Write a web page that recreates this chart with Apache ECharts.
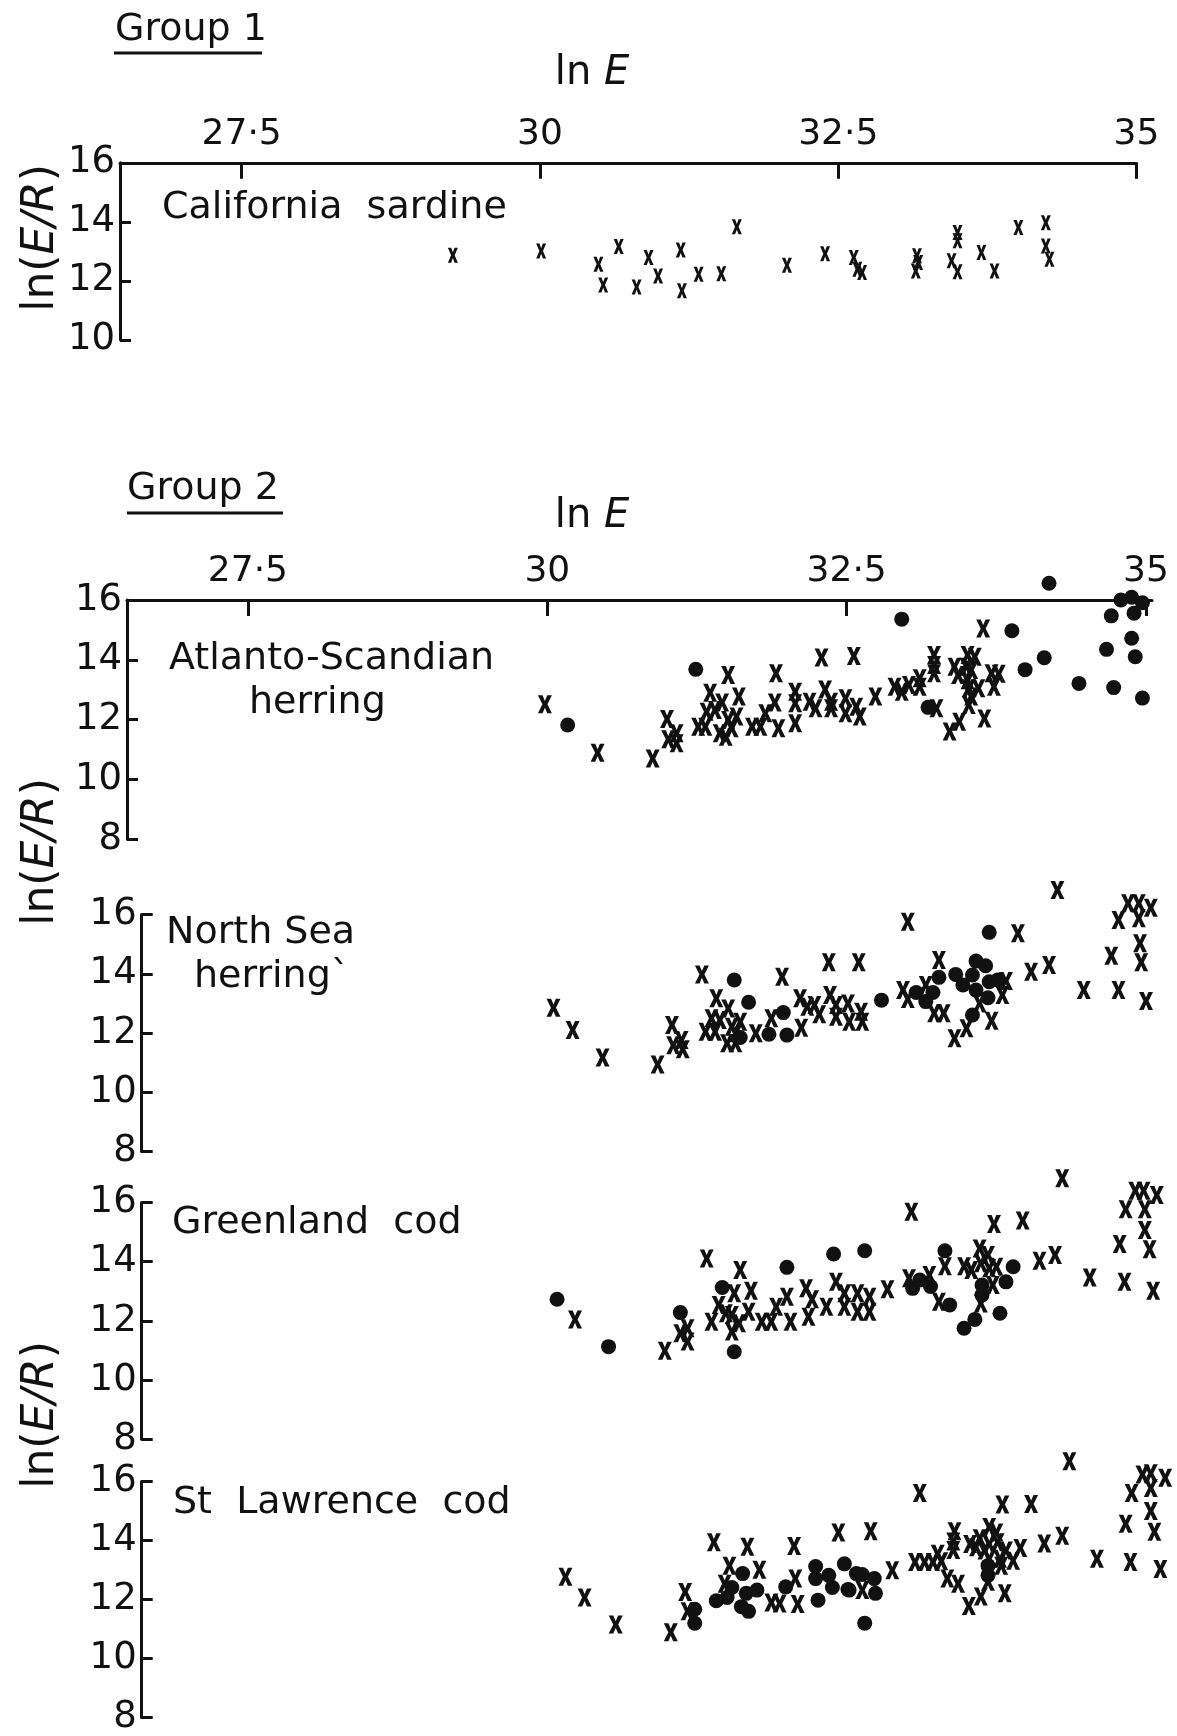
<!DOCTYPE html>
<html>
<head>
<meta charset="utf-8">
<script src="https://cdn.jsdelivr.net/npm/echarts@6/dist/echarts.min.js"></script>
<style>
  html, body { margin: 0; padding: 0; background: #fff; }
  #chart { width: 1177px; height: 1736px; }
</style>
</head>
<body>
<div id="chart"></div>
<script>
// tick labels
const xTicks = [27.5, 30, 32.5, 35];
const yTicksSardine = [10, 12, 14, 16];
const yTicks = [8, 10, 12, 14, 16];

// [ln E, ln(E/R)]
const sardineCross = [[29.27,12.87],[30.01,13.01],[30.49,12.56],[30.53,11.86],[30.66,13.16],[30.81,11.79],[30.91,12.79],[30.99,12.16],[31.18,13.04],[31.19,11.66],[31.33,12.22],[31.52,12.24],[31.65,13.83],[32.07,12.53],[32.39,12.92],[32.63,12.79],[32.66,12.39],[32.70,12.28],[33.16,12.85],[33.17,12.62],[33.15,12.33],[33.50,13.64],[33.50,13.36],[33.45,12.68],[33.50,12.31],[33.70,12.96],[33.81,12.33],[34.01,13.81],[34.24,13.97],[34.24,13.18],[34.27,12.73]];

const asHerringCross = [[29.98,12.51],[30.42,10.89],[30.88,10.70],[31.00,12.02],[31.01,11.34],[31.08,11.54],[31.08,11.21],[31.26,11.76],[31.32,11.76],[31.36,12.90],[31.33,12.26],[31.40,12.32],[31.46,12.57],[31.44,11.54],[31.49,11.43],[31.51,13.49],[31.51,11.99],[31.54,11.71],[31.58,12.10],[31.60,12.77],[31.71,11.76],[31.78,11.76],[31.82,12.21],[31.91,13.55],[31.90,12.57],[31.93,11.71],[32.07,12.93],[32.07,12.55],[32.07,11.88],[32.19,12.60],[32.24,12.38],[32.29,14.08],[32.32,13.01],[32.37,12.60],[32.37,12.38],[32.49,12.71],[32.49,12.21],[32.56,14.13],[32.58,12.43],[32.61,12.10],[32.74,12.77],[32.90,13.10],[32.96,12.93],[33.02,13.16],[33.11,13.38],[33.11,13.10],[33.23,14.16],[33.23,13.83],[33.23,13.55],[33.25,12.38],[33.36,11.60],[33.44,11.93],[33.40,13.77],[33.43,13.49],[33.51,14.16],[33.57,14.10],[33.50,13.77],[33.54,13.66],[33.51,13.32],[33.52,13.05],[33.60,13.05],[33.54,12.77],[33.52,12.49],[33.65,12.04],[33.64,15.05],[33.71,13.55],[33.77,13.53],[33.73,13.10]];
const asHerringDot = [[30.17,11.82],[31.24,13.68],[32.96,15.36],[33.18,12.41],[33.88,14.97],[33.99,13.67],[34.15,14.07],[34.19,16.56],[34.44,13.21],[34.67,14.35],[34.73,13.07],[34.71,15.47],[34.79,16.00],[34.88,16.09],[34.97,15.91],[34.90,15.56],[34.88,14.72],[34.91,14.10],[34.97,12.72]];

const nsHerringCross = [[30.05,12.85],[30.21,12.10],[30.46,11.17],[30.92,10.94],[31.04,12.27],[31.05,11.59],[31.12,11.76],[31.13,11.45],[31.29,13.98],[31.41,13.17],[31.51,12.83],[31.37,12.50],[31.44,12.44],[31.32,12.04],[31.40,12.04],[31.54,12.21],[31.61,12.38],[31.50,11.65],[31.57,11.65],[31.57,11.99],[31.74,11.99],[31.87,12.50],[31.96,13.90],[32.12,12.18],[32.11,13.17],[32.17,12.89],[32.23,12.95],[32.27,12.63],[32.35,14.39],[32.36,13.28],[32.41,12.95],[32.41,12.55],[32.51,13.00],[32.52,12.38],[32.62,12.72],[32.63,12.38],[32.60,14.39],[33.01,15.76],[32.97,13.45],[33.01,13.15],[33.16,13.62],[33.27,14.47],[33.23,12.67],[33.31,12.67],[33.40,11.82],[33.50,12.16],[33.61,13.00],[33.71,12.41],[33.80,13.28],[33.83,13.76],[33.93,15.37],[34.04,14.07],[34.19,14.30],[34.26,16.83],[34.48,13.45],[34.77,13.45],[34.71,14.61],[34.77,15.82],[34.85,16.38],[34.94,16.38],[35.04,16.23],[34.94,15.88],[34.95,15.03],[34.96,14.39],[35.00,13.08]];
const nsHerringDot = [[31.56,13.79],[31.68,13.04],[31.61,11.85],[31.85,11.96],[31.97,12.69],[32.00,11.93],[32.79,13.11],[33.08,13.37],[33.16,13.06],[33.22,13.37],[33.27,13.88],[33.41,13.98],[33.47,13.62],[33.58,14.43],[33.66,14.27],[33.55,13.96],[33.58,13.45],[33.68,13.19],[33.55,12.61],[33.69,13.73],[33.76,13.79],[33.69,15.40]];

const grCodCross = [[30.23,12.05],[30.98,10.99],[31.11,11.58],[31.17,11.75],[31.17,11.30],[31.33,14.11],[31.37,11.97],[31.43,12.54],[31.49,12.26],[31.56,12.93],[31.54,12.20],[31.54,11.64],[31.60,11.92],[31.61,13.72],[31.68,12.31],[31.70,13.02],[31.79,11.97],[31.87,11.97],[31.91,12.48],[32.00,12.82],[32.03,11.97],[32.16,13.10],[32.18,12.14],[32.21,12.73],[32.33,12.48],[32.41,13.32],[32.48,12.93],[32.48,12.48],[32.59,12.93],[32.59,12.31],[32.69,12.82],[32.69,12.31],[32.84,13.07],[33.04,15.69],[33.02,13.44],[33.19,13.55],[33.27,12.65],[33.32,13.85],[33.48,13.85],[33.54,13.72],[33.61,14.45],[33.68,14.23],[33.62,13.95],[33.69,13.78],[33.62,12.59],[33.72,13.21],[33.75,13.83],[33.73,15.27],[33.97,15.39],[34.11,14.03],[34.24,14.23],[34.30,16.82],[34.53,13.47],[34.82,13.32],[34.78,14.60],[34.83,15.77],[34.91,16.40],[34.98,16.40],[35.09,16.25],[34.99,15.77],[34.99,15.07],[35.03,14.42],[35.06,13.02]];
const grCodDot = [[30.08,12.73],[30.51,11.13],[31.11,12.28],[31.46,13.13],[31.56,10.96],[32.00,13.81],[32.39,14.26],[32.65,14.37],[33.05,13.10],[33.11,13.38],[33.20,13.16],[33.36,12.54],[33.32,14.37],[33.63,13.21],[33.63,12.88],[33.83,13.32],[33.89,13.83],[33.57,12.05],[33.48,11.75],[33.78,12.26]];

const slCodCross = [[30.15,12.77],[30.31,12.07],[30.57,11.15],[31.03,10.89],[31.15,12.26],[31.17,11.60],[31.39,13.94],[31.52,13.15],[31.48,12.54],[31.67,13.79],[31.77,13.01],[31.87,11.90],[31.94,11.87],[32.06,13.82],[32.07,12.71],[32.09,11.85],[32.43,14.27],[32.63,12.32],[32.70,14.32],[32.88,12.99],[33.11,15.61],[33.07,13.27],[33.15,13.27],[33.22,13.27],[33.26,13.55],[33.29,13.30],[33.34,12.71],[33.43,12.54],[33.40,14.32],[33.39,13.97],[33.39,13.68],[33.52,11.78],[33.62,12.10],[33.53,13.88],[33.58,13.77],[33.61,14.08],[33.69,14.46],[33.75,14.27],[33.69,13.88],[33.76,13.94],[33.65,13.66],[33.69,13.38],[33.78,13.38],[33.83,13.66],[33.89,13.32],[33.68,12.60],[33.79,13.15],[33.82,12.21],[33.95,13.75],[33.80,15.22],[34.04,15.24],[34.15,13.90],[34.30,14.16],[34.36,16.69],[34.59,13.38],[34.87,13.27],[34.83,14.57],[34.88,15.61],[34.97,16.24],[35.04,16.28],[35.16,16.13],[35.04,15.78],[35.04,15.00],[35.07,14.30],[35.12,13.04]];
const slCodDot = [[31.23,11.67],[31.23,11.20],[31.41,11.96],[31.50,12.07],[31.54,12.41],[31.63,12.88],[31.62,11.76],[31.68,11.60],[31.66,12.21],[31.75,12.32],[31.99,12.43],[32.24,13.12],[32.26,11.98],[32.24,12.71],[32.35,12.82],[32.38,12.41],[32.48,13.21],[32.51,12.34],[32.58,12.88],[32.63,12.85],[32.73,12.71],[32.52,12.32],[32.74,12.21],[32.65,11.20],[33.68,13.15],[33.68,12.82]];

const font = '"DejaVu Sans", sans-serif';
const ink = '#111';
// filled "x" glyph, thick arms like the printed marks
const crossPath = 'path://M0,0L3.3,0L5,3.1L6.7,0L10,0L6.8,5L10,10L6.7,10L5,6.9L3.3,10L0,10L3.2,5Z';

const chart = echarts.init(document.getElementById('chart'));

function xAxisFor(grid, min, max, shown) {
  return {
    gridIndex: grid, type: 'value', position: 'top', min: min, max: max,
    show: shown,
    axisLine: { show: true, lineStyle: { color: ink, width: 3 } },
    axisTick: { show: true, inside: true, length: 16, lineStyle: { color: ink, width: 3 }, customValues: xTicks },
    axisLabel: { color: ink, fontSize: 36, fontFamily: font, margin: 10, customValues: xTicks,
      formatter: v => String(v).replace('.', '\u00b7') },
    splitLine: { show: false }
  };
}
function yAxisFor(grid, min, ticks) {
  return {
    gridIndex: grid, type: 'value', min: min, max: 16, interval: 2,
    axisLine: { show: true, lineStyle: { color: ink, width: 3 } },
    axisTick: { show: true, inside: true, length: 11, lineStyle: { color: ink, width: 3 }, customValues: ticks },
    axisLabel: { color: ink, fontSize: 37, fontFamily: font, margin: 5, customValues: ticks },
    splitLine: { show: false }
  };
}
function scatter(idx, data, kind, small) {
  return {
    type: 'scatter', xAxisIndex: idx, yAxisIndex: idx, data: data, clip: false,
    symbol: kind === 'dot' ? 'circle' : crossPath,
    symbolSize: kind === 'dot' ? 15 : (small ? [10, 15] : [14, 18]),
    itemStyle: { color: ink, opacity: 1 },
    silent: true
  };
}
function label(x, y, text, size) {
  return { type: 'text', x: x, y: y, style: { text: text, fontSize: size || 38, fontFamily: font, fill: ink, verticalAlign: 'middle' } };
}
function lnE(x, y) {
  return { type: 'text', x: x, y: y, style: {
    text: '{a|ln }{b|E}', fill: ink, align: 'center', verticalAlign: 'middle',
    rich: { a: { fontSize: 40, fontFamily: font, fill: ink }, b: { fontSize: 40, fontFamily: font, fontStyle: 'italic', fill: ink } }
  } };
}
function lnER(x, y) {
  return { type: 'text', x: x, y: y, rotation: Math.PI / 2, style: {
    text: '{a|ln(}{b|E/R}{a|)}', fill: ink, align: 'center', verticalAlign: 'middle',
    rich: { a: { fontSize: 44, fontFamily: font, fill: ink }, b: { fontSize: 44, fontFamily: font, fontStyle: 'italic', fill: ink } }
  } };
}

const grids = [
  { left: 120, right: 40.5, top: 162.8, height: 177 },
  { left: 127, right: 25, top: 600, height: 239.2 },
  { left: 141.7, right: 25, top: 914.6, height: 236.8 },
  { left: 141.7, right: 25, top: 1202.5, height: 236.8 },
  { left: 141.7, right: 25, top: 1481.6, height: 239.2 }
];

chart.setOption({
  animation: false,
  backgroundColor: '#fff',
  grid: grids,
  xAxis: [
    xAxisFor(0, 26.48, 35, true),
    xAxisFor(1, 26.49, 35.05, true),
    xAxisFor(2, 26.61, 35.05, false),
    xAxisFor(3, 26.61, 35.05, false),
    xAxisFor(4, 26.61, 35.05, false)
  ],
  yAxis: [
    yAxisFor(0, 10, yTicksSardine),
    yAxisFor(1, 8, yTicks),
    yAxisFor(2, 8, yTicks),
    yAxisFor(3, 8, yTicks),
    yAxisFor(4, 8, yTicks)
  ],
  series: [
    scatter(0, sardineCross, 'cross', true),
    scatter(1, asHerringCross, 'cross'),
    scatter(1, asHerringDot, 'dot'),
    scatter(2, nsHerringCross, 'cross'),
    scatter(2, nsHerringDot, 'dot'),
    scatter(3, grCodCross, 'cross'),
    scatter(3, grCodDot, 'dot'),
    scatter(4, slCodCross, 'cross'),
    scatter(4, slCodDot, 'dot')
  ],
  graphic: [
    label(115, 30, 'Group 1', 38),
    { type: 'line', shape: { x1: 114, y1: 53, x2: 262, y2: 53 }, style: { stroke: ink, lineWidth: 3 } },
    lnE(592, 74),
    lnER(42, 238),
    label(162, 208, 'California  sardine', 38),

    label(127, 489, 'Group 2', 38),
    { type: 'line', shape: { x1: 127, y1: 513, x2: 283, y2: 513 }, style: { stroke: ink, lineWidth: 3 } },
    lnE(592, 517),
    label(169, 659, 'Atlanto-Scandian', 38),
    label(249, 703, 'herring', 38),
    lnER(42, 852),
    label(166, 933, 'North Sea', 38),
    label(194, 977, 'herring`', 38),
    label(172, 1223, 'Greenland  cod', 38),
    lnER(42, 1415),
    label(173, 1503, 'St  Lawrence  cod', 38)
  ]
});
</script>
</body>
</html>
